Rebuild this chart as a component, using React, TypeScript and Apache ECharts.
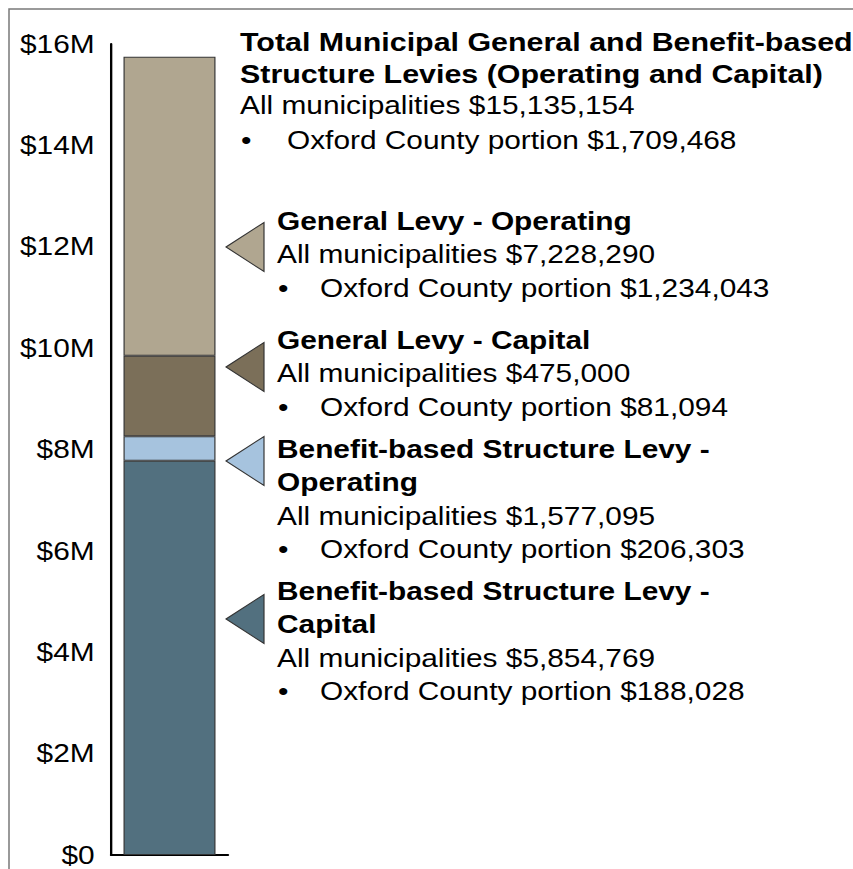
import { useEffect, useRef } from 'react';
import * as echarts from 'echarts';

// Page size and horizontal stretch of the reference rendering
const W = 853;
const H = 869;
const IW = 729; // inner chart width before horizontal stretch
const SX = W / IW;

const FONT = "'Liberation Sans', Arial, Helvetica, sans-serif";

// ---- Data ----
const categories = ['Levies'];
// stacked from bottom to top, values in $M
const seriesNames = [
  'Benefit-based Structure Levy - Capital',
  'Benefit-based Structure Levy - Operating',
  'General Levy - Capital',
  'General Levy - Operating',
];
const seriesValues = [7.78, 0.48, 1.59, 5.9];
const seriesColors = ['#52707f', '#a6c3de', '#7b6f59', '#b0a690'];

const yMax = 16;
const yInterval = 2;

const titleLines = [
  'Total Municipal General and Benefit-based',
  'Structure Levies (Operating and Capital)',
];
const titleAll = 'All municipalities $15,135,154';
const titleOxford = 'Oxford County portion $1,709,468';

const headingLines = [
  ['Benefit-based Structure Levy -', 'Capital'],
  ['Benefit-based Structure Levy -', 'Operating'],
  ['General Levy - Capital'],
  ['General Levy - Operating'],
];
const allMunicipalities = ['$5,854,769', '$1,577,095', '$475,000', '$7,228,290'];
const oxfordPortions = ['$188,028', '$206,303', '$81,094', '$1,234,043'];

// ---- Layout (reference pixel coordinates) ----
const annotationFirstLineY = [591, 449, 340, 221];
const triangleCenterY = [619, 461, 367, 247];
const LINE = 33.5;

function ix(x: number) {
  return x / SX;
}

function txt(x: number, y: number, text: string, bold: boolean, size = 25.5) {
  return {
    type: 'text',
    x: ix(x),
    y,
    silent: true,
    style: {
      text,
      fill: '#000',
      fontSize: size,
      fontWeight: bold ? 'bold' : 'normal',
      fontFamily: FONT,
      textVerticalAlign: 'middle',
      verticalAlign: 'middle',
      textAlign: 'left',
      align: 'left',
    },
  };
}

export default function App() {
  const ref = useRef<HTMLDivElement>(null);

  useEffect(() => {
    if (!ref.current) return;
    const chart = echarts.init(ref.current, null, { renderer: 'svg', width: IW, height: H });

    const graphics: any[] = [];
    // frame
    graphics.push({
      type: 'rect',
      silent: true,
      z: -1,
      shape: { x: ix(9), y: 9, width: 3000, height: 3000 },
      style: { fill: 'none', stroke: '#7a7a7a', lineWidth: 1.3 },
    });

    // title block
    titleLines.forEach((t, i) => graphics.push(txt(240, 42 + i * 32, t, true, 26)));
    graphics.push(txt(240, 105, titleAll, false));
    graphics.push(txt(241, 140, '•', false));
    graphics.push(txt(287, 140, titleOxford, false));

    // annotations
    seriesNames.forEach((_, i) => {
      const cy = triangleCenterY[i];
      graphics.push({
        type: 'polygon',
        silent: true,
        shape: {
          points: [
            [ix(226), cy],
            [ix(264), cy - 24.5],
            [ix(264), cy + 24.5],
          ],
        },
        style: { fill: seriesColors[i], stroke: '#333', lineWidth: 1 },
      });
      let y = annotationFirstLineY[i];
      headingLines[i].forEach((h) => {
        graphics.push(txt(277, y, h, true));
        y += LINE;
      });
      graphics.push(txt(277, y, 'All municipalities ' + allMunicipalities[i], false));
      y += LINE;
      graphics.push(txt(278, y, '•', false));
      graphics.push(txt(320, y, 'Oxford County portion ' + oxfordPortions[i], false));
    });

    const option: any = {
      animation: false,
      backgroundColor: '#fff',
      grid: {
        left: ix(111),
        right: IW - ix(228),
        top: 44,
        bottom: 10,
        containLabel: false,
      },
      xAxis: {
        type: 'category',
        data: categories,
        axisLine: { show: true, lineStyle: { color: '#000', width: 2 } },
        axisTick: { show: false },
        axisLabel: { show: false },
        splitLine: { show: false },
      },
      yAxis: {
        type: 'value',
        min: 0,
        max: yMax,
        interval: yInterval,
        axisLine: { show: true, lineStyle: { color: '#000', width: 2 } },
        axisTick: { show: false },
        splitLine: { show: false },
        axisLabel: {
          margin: 14,
          fontSize: 25.5,
          lineHeight: 22,
          padding: [0, 0, 6, 0],
          color: '#000',
          fontFamily: FONT,
          formatter: (v: number) => (v === 0 ? '$0' : '$' + v + 'M'),
        },
      },
      series: seriesNames.map((name, i) => ({
        name,
        type: 'bar',
        stack: 'total',
        barWidth: ix(92),
        data: [seriesValues[i]],
        itemStyle: { color: seriesColors[i], borderColor: '#333', borderWidth: 1 },
      })),
      graphic: graphics,
    };

    chart.setOption(option);
    return () => chart.dispose();
  }, []);

  return (
    <div
      style={{
        position: 'fixed',
        left: 0,
        top: 0,
        width: W,
        height: H,
        background: '#fff',
        overflow: 'hidden',
      }}
    >
      <div
        ref={ref}
        style={{
          width: IW,
          height: H,
          transform: `scaleX(${SX})`,
          transformOrigin: '0 0',
        }}
      />
    </div>
  );
}
